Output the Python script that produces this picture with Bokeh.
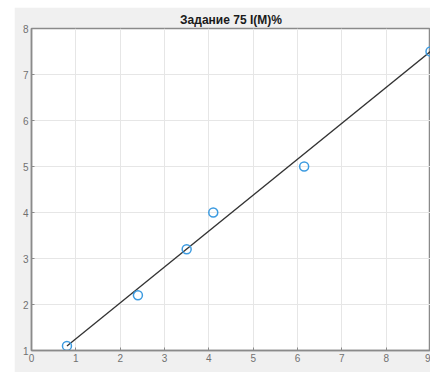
from bokeh.plotting import figure
from bokeh.models import Range1d, FixedTicker
from bokeh.embed import file_html
from bokeh.resources import INLINE

title_text = "Задание 75 I(M)%"
x_obs = [0.8, 2.4, 3.5, 4.1, 6.15, 9.0]
y_obs = [1.1, 2.2, 3.2, 4.0, 5.0, 7.5]
fit_x = [0.8, 9.0]
fit_y = [1.1, 7.5]
x_ticks = [0, 1, 2, 3, 4, 5, 6, 7, 8, 9]
y_ticks = [1, 2, 3, 4, 5, 6, 7, 8]

p = figure(width=416, height=365, output_backend="svg", toolbar_location=None,
           x_range=Range1d(0, 9), y_range=Range1d(1, 8),
           min_border_left=17, min_border_right=0, min_border_top=21, min_border_bottom=22,
           margin=(7, 0, 0, 14))
p.border_fill_color = "#f0f0f0"
p.background_fill_color = "white"
p.outline_line_color = "#8a8a8a"
p.outline_line_width = 1.5

p.title.text = title_text
p.title.align = "center"
p.title.text_font = "Liberation Sans"
p.title.text_font_size = "12px"
p.title.text_font_style = "bold"
p.title.text_color = "#1a1a1a"
p.title.standoff = 4

for ax in [p.xaxis[0], p.yaxis[0]]:
    ax.axis_line_color = "#8a8a8a"
    ax.axis_line_width = 1.5
    ax.major_tick_in = 3
    ax.major_tick_out = 0
    ax.major_tick_line_color = "#8a8a8a"
    ax.minor_tick_line_color = None
    ax.major_label_text_font = "Liberation Sans"
    ax.major_label_text_font_size = "10px"
    ax.major_label_text_color = "#707070"
    ax.major_label_standoff = 3
p.xaxis[0].ticker = FixedTicker(ticks=x_ticks)
p.yaxis[0].ticker = FixedTicker(ticks=y_ticks)

p.xgrid.ticker = FixedTicker(ticks=x_ticks)
p.ygrid.ticker = FixedTicker(ticks=y_ticks)
p.grid.grid_line_color = "#e6e6e6"
p.grid.grid_line_width = 1

p.line(fit_x, fit_y, line_color="#333333", line_width=1.3)
p.scatter(x_obs, y_obs, marker="circle", size=9, fill_color=None,
          line_color="#3d9be0", line_width=1.5)

open("out.html", "w").write(file_html(p, INLINE))
